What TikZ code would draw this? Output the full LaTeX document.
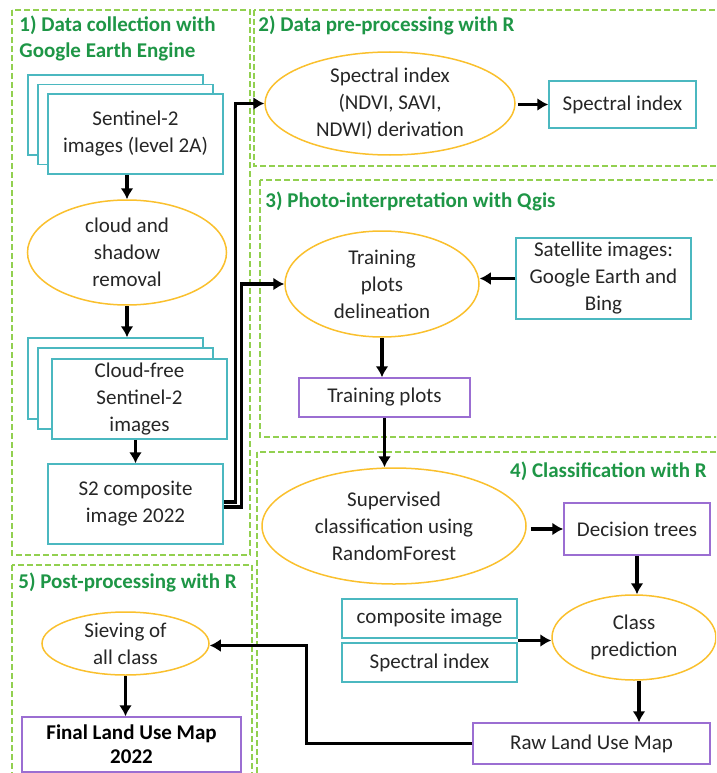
\documentclass[tikz,border=0pt]{standalone}
\usepackage{fontspec}
\setmainfont{Carlito}
\usetikzlibrary{shapes.geometric,arrows.meta,calc}
\definecolor{panelgreen}{RGB}{146,208,80}
\definecolor{titlegreen}{RGB}{30,150,70}
\definecolor{boxteal}{RGB}{75,184,192}
\definecolor{ellgold}{RGB}{250,192,45}
\definecolor{boxpurple}{RGB}{155,110,210}
\definecolor{txtgray}{RGB}{38,38,38}

\tikzset{
  panel/.style={draw=panelgreen,line width=1.6pt,dash pattern=on 6pt off 3pt},
  paneltitle/.style={text=titlegreen,font=\fontsize{21}{26}\selectfont\bfseries,inner sep=0pt,align=left},
  databox/.style={draw=boxteal,line width=1.5pt,fill=white,text=txtgray,
    font=\fontsize{21}{27}\selectfont,align=center,inner sep=0pt},
  resultbox/.style={databox,draw=boxpurple},
  process/.style={ellipse,draw=ellgold,line width=1.5pt,fill=white,text=txtgray,
    font=\fontsize{21}{27}\selectfont,align=center,inner sep=0pt},
  flow/.style={->,line width=3.4pt},
}

\begin{document}
\begin{tikzpicture}[x=1pt,y=-1pt,>={Latex[length=11pt,width=13pt]},thick]
\clip (0,0) rectangle (716,773);
% the five dashed panels
\draw[panel] (12,10) rectangle (250,555);
\draw[panel] (254,10) rectangle (720,166);
\draw[panel] (260,180) rectangle (720,437);
\draw[panel] (257,452) rectangle (720,790);
\draw[panel] (12,565) rectangle (252,790);
\node[paneltitle,anchor=north west] (t1) at (19,16) {1) Data collection with\\Google Earth Engine};
\node[paneltitle,anchor=base west] (t2) at (258,32) {2) Data pre-processing with R};
\node[paneltitle,anchor=base west] (t3) at (265,207) {3) Photo-interpretation with Qgis};
\node[paneltitle,anchor=base east] (t4) at (707,477) {4) Classification with R};
\node[paneltitle,anchor=base west] (t5) at (18,588) {5) Post-processing with R};

% 1) Google Earth Engine
\node[databox,minimum width=175pt,minimum height=80pt] (s2b1) at (115.5,115) {};
\node[databox,minimum width=175pt,minimum height=80pt] (s2b2) at (125.5,124.5) {};
\node[databox,minimum width=175pt,minimum height=80pt] (s2) at (135.5,134) {Sentinel-2\\images (level 2A)};
\node[process,minimum width=199pt,minimum height=105pt] (cloud) at (127,252.5) {cloud and\\shadow\\removal};
\node[databox,minimum width=175pt,minimum height=81pt] (cfb1) at (115.5,378.5) {};
\node[databox,minimum width=175pt,minimum height=81pt] (cfb2) at (125.5,388.5) {};
\node[databox,minimum width=175pt,minimum height=80pt] (cf) at (139.5,399) {Cloud-free\\Sentinel-2\\images};
\node[databox,minimum width=175pt,minimum height=80pt] (s2comp) at (135.5,504) {S2 composite\\image 2022};

% 2) pre-processing
\node[process,minimum width=250pt,minimum height=103pt] (spderiv) at (390,103.5) {Spectral index\\(NDVI, SAVI,\\NDWI) derivation};
\node[databox,minimum width=147pt,minimum height=47pt] (spidx) at (622.5,104.5) {Spectral index};

% 3) photo-interpretation
\node[process,minimum width=194pt,minimum height=106pt] (trdel) at (382,284) {Training\\plots\\delineation};
\node[databox,minimum width=175pt,minimum height=81pt] (sat) at (603.5,278.5) {Satellite images:\\Google Earth and\\Bing};
\node[resultbox,minimum width=171pt,minimum height=39pt] (trplots) at (384.5,397.5) {Training plots};

% 4) classification
\node[process,minimum width=264pt,minimum height=116pt] (superv) at (394,526) {Supervised\\classification using\\RandomForest};
\node[resultbox,minimum width=146pt,minimum height=52pt] (dectree) at (637,529) {Decision trees};
\node[process,minimum width=164pt,minimum height=85pt] (classpred) at (634,637.5) {Class\\prediction};
\node[databox,minimum width=175pt,minimum height=39pt] (compimg) at (429.5,618.5) {composite image};
\node[databox,minimum width=175pt,minimum height=39pt] (spidxb) at (429.5,662.5) {Spectral index};
\node[resultbox,minimum width=237pt,minimum height=41pt] (rawmap) at (591.5,743.5) {Raw Land Use Map};

% 5) post-processing
\node[process,minimum width=167pt,minimum height=63pt] (sieve) at (125.5,643.5) {Sieving of\\all class};
\node[resultbox,minimum width=219pt,minimum height=55pt,font=\fontsize{21}{24}\selectfont\bfseries,text=black] (final) at (131.5,744.5) {Final Land Use Map\\2022};

% connectors
\draw[flow] (cloud.north |- s2.south) -- (cloud.north);
\draw[flow] (cloud.south) -- (cloud.south |- cfb1.north);
\draw[flow] (s2comp.north |- cf.south) -- (s2comp.north);
\draw[flow] ([yshift=2pt]s2comp.east) -- ++(12,0) |- (spderiv.west);
\draw[flow] ([yshift=-3pt]s2comp.east) -- ++(18,0) |- (trdel.west);
\draw[flow] ([xshift=2pt]spidx.west -| spderiv.east) -- (spidx.west);
\draw[flow] (sat.west) -- (sat.west -| trdel.east);
\draw[flow] (trdel.south) -- (trdel.south |- trplots.north);
\draw[flow] (trplots.south) -- (trplots.south |- superv.north);
\draw[flow] ([xshift=4pt]dectree.west -| superv.east) -- (dectree.west);
\draw[flow] (dectree.south) -- (dectree.south |- classpred.north);
\draw[flow] ($(compimg.south east)!.5!(spidxb.north east)$) coordinate (inmid) -- (inmid -| classpred.west);
\draw[flow] ([xshift=5pt]classpred.south) -- ([xshift=5pt]classpred.south |- rawmap.north);
\draw[flow] (rawmap.west) -- ++(-166,0) |- ([yshift=-2pt]sieve.east);
\draw[flow] (sieve.south) -- (sieve.south |- final.north);
\end{tikzpicture}
\end{document}
